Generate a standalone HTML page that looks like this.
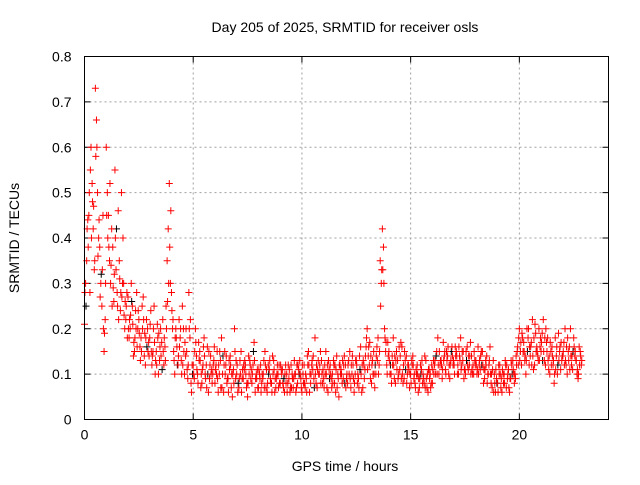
<!DOCTYPE html>
<html><head><meta charset="utf-8"><style>
body{margin:0;background:#fff}
svg text{font-family:"Liberation Sans",sans-serif;font-size:14px;fill:#000}
</style></head><body>
<svg id="chart" width="640" height="480" xmlns="http://www.w3.org/2000/svg">
<text x="345" y="32" text-anchor="middle">Day 205 of 2025, SRMTID for receiver osls</text>
<text transform="translate(19,238) rotate(-90)" text-anchor="middle">SRMTID / TECUs</text>
<text x="345" y="471" text-anchor="middle">GPS time / hours</text>
<g id="grid"></g><g id="ticks"></g><g id="marks"></g>
<rect x="84.5" y="56.5" width="524" height="363" fill="none" stroke="#000"/>
</svg>
<script>
const xTicks=[0,5,10,15,20];
const yTicks=[0,0.1,0.2,0.3,0.4,0.5,0.6,0.7,0.8];
const yTickLabels=["0","0.1","0.2","0.3","0.4","0.5","0.6","0.7","0.8"];
const seriesA=[0.21,0.35,0.45,0.6,0.42,0.73,0.5,0.38,0.25,0.15,
0.6,0.45,0.3,0.38,0.55,0.28,0.35,0.5,0.3,0.22,
0.27,0.2,0.25,0.15,0.28,0.22,0.18,0.27,0.12,0.2,
0.18,0.12,0.25,0.15,0.1,0.2,0.22,0.16,0.35,0.52,
0.28,0.15,0.2,0.12,0.18,0.25,0.1,0.15,0.28,0.08,
0.12,0.2,0.1,0.15,0.08,0.18,0.12,0.06,0.14,0.1,
0.08,0.15,0.1,0.18,0.06,0.12,0.09,0.14,0.05,0.2,
0.1,0.07,0.15,0.09,0.12,0.05,0.13,0.08,0.17,0.1,
0.07,0.12,0.09,0.15,0.06,0.11,0.08,0.13,0.07,0.1,
0.08,0.11,0.06,0.1,0.09,0.12,0.07,0.1,0.08,0.13,
0.06,0.12,0.09,0.15,0.08,0.11,0.18,0.07,0.1,0.13,
0.09,0.15,0.06,0.12,0.1,0.08,0.14,0.05,0.11,0.09,
0.12,0.08,0.15,0.1,0.06,0.13,0.09,0.16,0.07,0.11,
0.2,0.12,0.08,0.15,0.1,0.18,0.35,0.42,0.2,0.12,
0.15,0.1,0.18,0.08,0.13,0.11,0.16,0.09,0.14,0.12,
0.1,0.14,0.08,0.12,0.07,0.11,0.09,0.13,0.06,0.1,
0.08,0.12,0.15,0.1,0.13,0.17,0.11,0.14,0.09,0.16,
0.12,0.15,0.1,0.18,0.13,0.11,0.16,0.12,0.14,0.1,
0.13,0.16,0.11,0.15,0.09,0.14,0.12,0.08,0.13,0.06,
0.08,0.12,0.06,0.1,0.07,0.11,0.09,0.13,0.1,0.15,
0.2,0.12,0.17,0.1,0.18,0.14,0.22,0.12,0.16,0.2,
0.15,0.22,0.12,0.18,0.1,0.16,0.08,0.14,0.19,0.11,
0.14,0.2,0.1,0.16,0.12,0.18,0.13,0.09,0.15];
const seriesB=[0.3,0.44,0.28,0.52,0.33,0.66,0.4,0.3,0.45,0.22,
0.5,0.35,0.42,0.26,0.33,0.46,0.24,0.3,0.2,0.28,
0.18,0.3,0.14,0.24,0.2,0.16,0.25,0.14,0.22,0.17,
0.24,0.15,0.1,0.21,0.13,0.17,0.12,0.25,0.42,0.3,
0.2,0.1,0.16,0.22,0.13,0.2,0.14,0.09,0.18,0.12,
0.09,0.14,0.17,0.07,0.12,0.1,0.16,0.09,0.11,0.13,
0.12,0.06,0.13,0.1,0.15,0.08,0.13,0.07,0.11,0.09,
0.06,0.13,0.09,0.11,0.07,0.14,0.09,0.12,0.06,0.11,
0.1,0.08,0.13,0.07,0.12,0.09,0.14,0.06,0.1,0.12,
0.11,0.07,0.12,0.08,0.06,0.1,0.13,0.07,0.11,0.09,
0.1,0.07,0.14,0.06,0.12,0.09,0.08,0.13,0.15,0.08,
0.12,0.07,0.11,0.09,0.13,0.06,0.1,0.12,0.08,0.14,
0.09,0.13,0.07,0.12,0.1,0.08,0.14,0.06,0.12,0.16,
0.14,0.09,0.13,0.07,0.16,0.12,0.3,0.38,0.15,0.17,
0.1,0.14,0.09,0.15,0.1,0.17,0.08,0.13,0.1,0.07,
0.13,0.09,0.11,0.06,0.12,0.08,0.14,0.07,0.11,0.08,
0.13,0.1,0.18,0.12,0.09,0.14,0.15,0.1,0.13,0.12,
0.16,0.1,0.14,0.12,0.09,0.15,0.11,0.17,0.1,0.13,
0.1,0.12,0.15,0.08,0.13,0.1,0.16,0.07,0.1,0.09,
0.12,0.07,0.1,0.13,0.09,0.06,0.12,0.1,0.14,0.12,
0.15,0.18,0.13,0.2,0.12,0.17,0.11,0.19,0.14,0.16,
0.19,0.13,0.17,0.11,0.15,0.12,0.18,0.1,0.15,0.13,
0.17,0.12,0.15,0.2,0.11,0.14,0.1,0.16,0.12];
const seriesC=[0.25,0.38,0.55,0.48,0.35,0.6,0.44,0.32,0.2,0.3,
0.4,0.52,0.25,0.32,0.42,0.22,0.28,0.4,0.26,0.18,
0.22,0.26,0.17,0.2,0.24,0.13,0.2,0.19,0.16,0.14,
0.15,0.2,0.13,0.18,0.16,0.11,0.18,0.2,0.3,0.46,
0.22,0.18,0.12,0.16,0.1,0.15,0.2,0.12,0.22,0.1,
0.15,0.11,0.13,0.1,0.16,0.09,0.1,0.12,0.08,0.16,
0.1,0.12,0.07,0.14,0.1,0.09,0.11,0.1,0.08,0.13,
0.08,0.1,0.11,0.13,0.08,0.1,0.11,0.15,0.09,0.07,
0.09,0.1,0.07,0.11,0.1,0.08,0.1,0.09,0.12,0.08,
0.1,0.09,0.08,0.12,0.07,0.09,0.1,0.12,0.1,0.07,
0.08,0.1,0.12,0.1,0.13,0.07,0.12,0.1,0.08,0.11,
0.1,0.12,0.09,0.07,0.12,0.11,0.09,0.1,0.13,0.08,
0.1,0.1,0.12,0.09,0.13,0.1,0.11,0.12,0.09,0.18,
0.16,0.14,0.1,0.12,0.13,0.15,0.33,0.3,0.17,0.14,
0.12,0.12,0.14,0.11,0.16,0.09,0.12,0.11,0.12,0.1,
0.12,0.1,0.1,0.09,0.1,0.1,0.07,0.1,0.09,0.12,
0.1,0.14,0.12,0.13,0.11,0.15,0.13,0.12,0.15,0.13,
0.14,0.12,0.13,0.15,0.11,0.13,0.14,0.1,0.12,0.12,
0.11,0.13,0.12,0.11,0.12,0.1,0.1,0.11,0.08,0.08,
0.1,0.09,0.08,0.12,0.1,0.09,0.1,0.08,0.12,0.18,
0.17,0.15,0.14,0.15,0.16,0.12,0.18,0.15,0.13,0.18,
0.13,0.18,0.15,0.14,0.12,0.13,0.11,0.12,0.16,0.14,
0.12,0.16,0.13,0.14,0.15,0.15,0.11,0.12,0.13];
const seriesD=[0.28,0.42,0.5,0.4,0.47,0.58,0.36,0.27,0.33,0.19,
0.45,0.38,0.34,0.29,0.4,0.25,0.31,0.27,0.23,0.25,
0.2,0.23,0.21,0.18,0.16,0.19,0.15,0.22,0.18,0.15,
0.21,0.14,0.17,0.12,0.19,0.14,0.15,0.13,0.26,0.38,
0.24,0.13,0.18,0.14,0.2,0.12,0.17,0.11,0.2,0.06,
0.1,0.17,0.08,0.13,0.11,0.14,0.07,0.15,0.1,0.12,
0.11,0.09,0.15,0.07,0.12,0.14,0.06,0.12,0.1,0.15,
0.12,0.09,0.06,0.12,0.1,0.08,0.12,0.1,0.13,0.09,
0.11,0.06,0.1,0.12,0.08,0.13,0.06,0.11,0.09,0.07,
0.12,0.08,0.1,0.06,0.11,0.07,0.09,0.06,0.12,0.1,
0.12,0.08,0.06,0.12,0.1,0.14,0.1,0.11,0.12,0.1,
0.07,0.1,0.13,0.1,0.08,0.12,0.07,0.12,0.1,0.12,
0.07,0.12,0.09,0.14,0.08,0.12,0.07,0.1,0.13,0.14,
0.11,0.17,0.12,0.1,0.14,0.1,0.25,0.33,0.18,0.1,
0.13,0.08,0.12,0.13,0.09,0.14,0.1,0.15,0.08,0.11,
0.08,0.12,0.07,0.1,0.09,0.13,0.08,0.09,0.11,0.07,
0.11,0.13,0.1,0.15,0.12,0.13,0.1,0.16,0.12,0.14,
0.1,0.14,0.16,0.11,0.15,0.1,0.12,0.14,0.11,0.15,
0.12,0.1,0.14,0.12,0.11,0.08,0.13,0.1,0.06,0.11,
0.06,0.1,0.11,0.08,0.12,0.07,0.13,0.11,0.09,0.16,
0.13,0.19,0.15,0.13,0.2,0.16,0.14,0.21,0.15,0.13,
0.17,0.15,0.2,0.13,0.17,0.14,0.1,0.16,0.13,0.17,
0.15,0.13,0.18,0.11,0.14,0.16,0.13,0.1,0.14];
const timeStep=0.1;
const NS="http://www.w3.org/2000/svg";
const X0=84.5,X1=608.5,Y0=419.5,Y1=56.5,XMAX=24.1,YMAX=0.8;
function xs(t){return X0+(X1-X0)*t/XMAX;}
function ys(v){return Y0-(Y0-Y1)*v/YMAX;}
const grid=document.getElementById('grid'),ticks=document.getElementById('ticks'),marks=document.getElementById('marks');
function mk(tag,attrs,parent){const e=document.createElementNS(NS,tag);for(const k in attrs)e.setAttribute(k,attrs[k]);parent.appendChild(e);return e;}
yTicks.forEach((v,i)=>{
  const y=ys(v);
  if(i>0&&i<yTicks.length-1){const g=mk('line',{x1:X0,x2:X1,y1:y,y2:y,stroke:'#a0a0a0','stroke-dasharray':'2,3'},grid);
  
  }
  mk('line',{x1:X0,x2:X0+6,y1:y,y2:y,stroke:'#000'},ticks);
  mk('line',{x1:X1,x2:X1-6,y1:y,y2:y,stroke:'#000'},ticks);
  const t=mk('text',{x:X0-13,y:y+5,'text-anchor':'end'},ticks);t.textContent=yTickLabels[i];
  
  
});
xTicks.forEach(v=>{
  const x=xs(v);
  if(v>0){const g=mk('line',{x1:x,x2:x,y1:Y0,y2:Y1,stroke:'#a0a0a0','stroke-dasharray':'2,3'},grid);
  
  }
  mk('line',{x1:x,x2:x,y1:Y0,y2:Y0-6,stroke:'#000'},ticks);
  mk('line',{x1:x,x2:x,y1:Y1,y2:Y1+6,stroke:'#000'},ticks);
  const t=mk('text',{x:x,y:Y0+20,'text-anchor':'middle'},ticks);t.textContent=String(v);
  
  
});
function plus(t,v,color){
  const x=xs(t),y=ys(v);
  const p=mk('path',{d:`M${x-3.5},${y}H${x+3.5}M${x},${y-3.5}V${y+3.5}`,stroke:color,'stroke-width':1,fill:'none'},marks);
  
  
}
seriesC.forEach((v,i)=>plus(i*timeStep+0.07,v,i%7===0?'#000':'#ff0000'));
seriesD.forEach((v,i)=>plus(i*timeStep+0.02,v,'#ff0000'));
seriesA.forEach((v,i)=>plus(i*timeStep,v,'#ff0000'));
seriesB.forEach((v,i)=>plus(i*timeStep+0.05,v,'#ff0000'));
</script>
</body></html>
